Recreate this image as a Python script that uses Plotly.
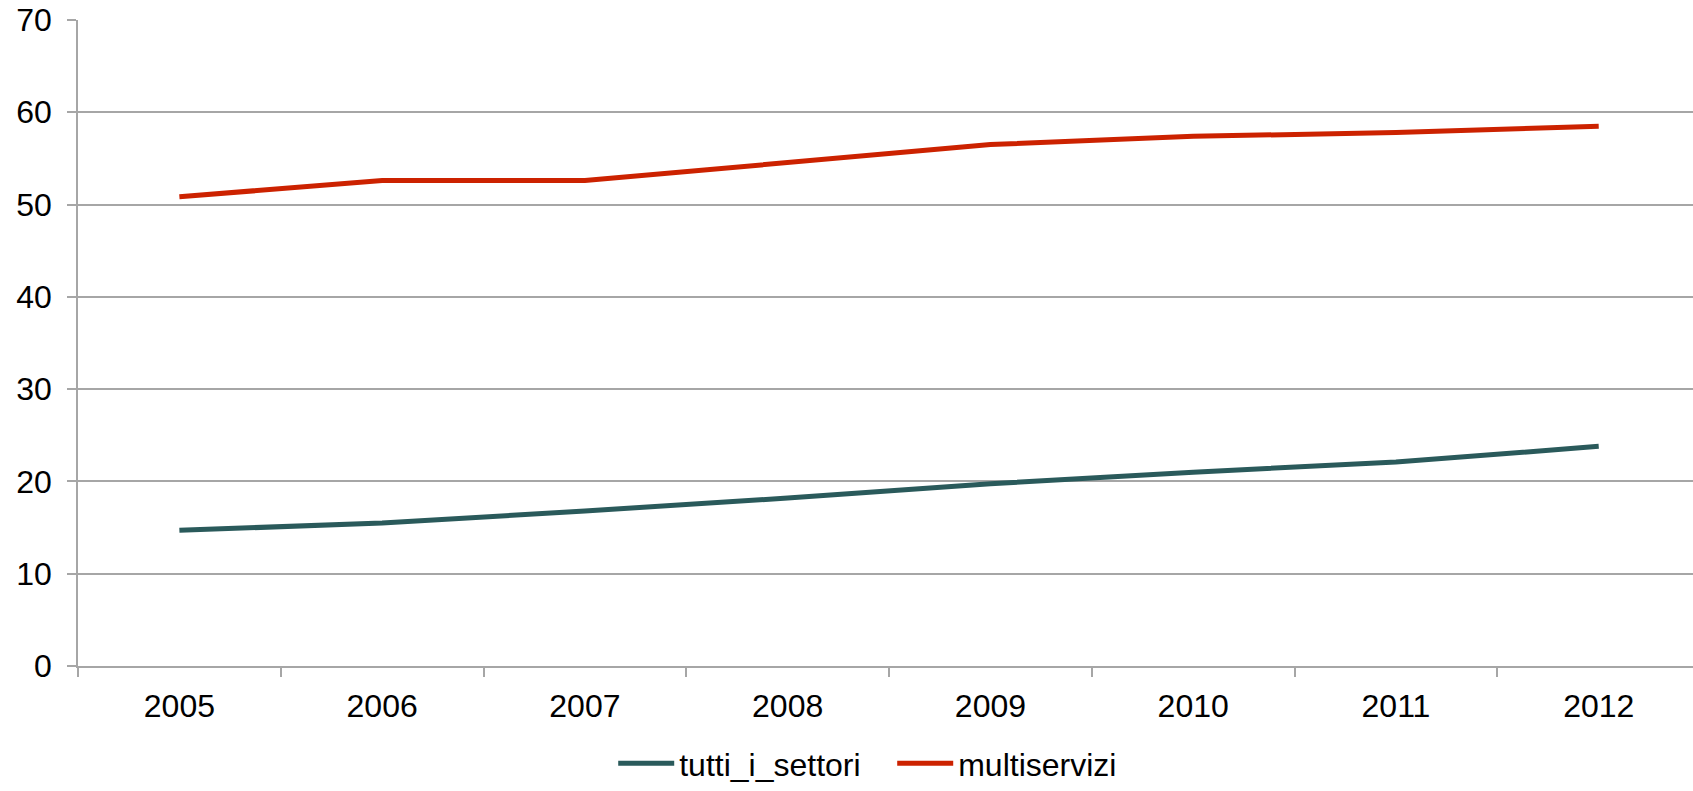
import plotly.graph_objects as go

years = ["2005", "2006", "2007", "2008", "2009", "2010", "2011", "2012"]
tutti_i_settori = [14.7, 15.5, 16.8, 18.2, 19.75, 21.0, 22.1, 23.8]
multiservizi = [50.85, 52.6, 52.6, 54.6, 56.5, 57.4, 57.8, 58.5]
y_ticks = [0, 10, 20, 30, 40, 50, 60, 70]

GRID = "#A6A6A6"
FONT = "Liberation Sans, Arial, sans-serif"

fig = go.Figure()
fig.add_trace(go.Scatter(x=years, y=tutti_i_settori, mode="lines", name="tutti_i_settori",
                         line=dict(color="#2A5A5B", width=5)))
fig.add_trace(go.Scatter(x=years, y=multiservizi, mode="lines", name="multiservizi",
                         line=dict(color="#CC2200", width=5)))

fig.update_layout(
    width=1693, height=791,
    margin=dict(l=78, r=0, t=20, b=125),
    paper_bgcolor="white", plot_bgcolor="white",
    font=dict(family=FONT, size=32, color="black"),
    showlegend=True,
    legend=dict(orientation="h", xref="container", x=0.527, xanchor="center",
                yref="container", y=0.0, yanchor="bottom",
                itemwidth=56, entrywidth=208, font=dict(size=32), itemclick=False),
    xaxis=dict(type="category", range=[-0.5, 7.465], tickson="boundaries",
               ticks="outside", ticklen=9, tickcolor=GRID, tickwidth=1.5,
               showline=True, linecolor=GRID, linewidth=1.5,
               showgrid=False, zeroline=False, ticklabelstandoff=11,
               tickfont=dict(size=32)),
    yaxis=dict(range=[0, 70], tickvals=y_ticks, ticks="outside", ticklen=9,
               tickcolor=GRID, tickwidth=1.5, showline=True, linecolor=GRID,
               linewidth=1.5, showgrid=True, gridcolor=GRID, gridwidth=1.5,
               zeroline=False, ticklabelstandoff=9, tickfont=dict(size=32)),
)

fig.write_html("out.html")
